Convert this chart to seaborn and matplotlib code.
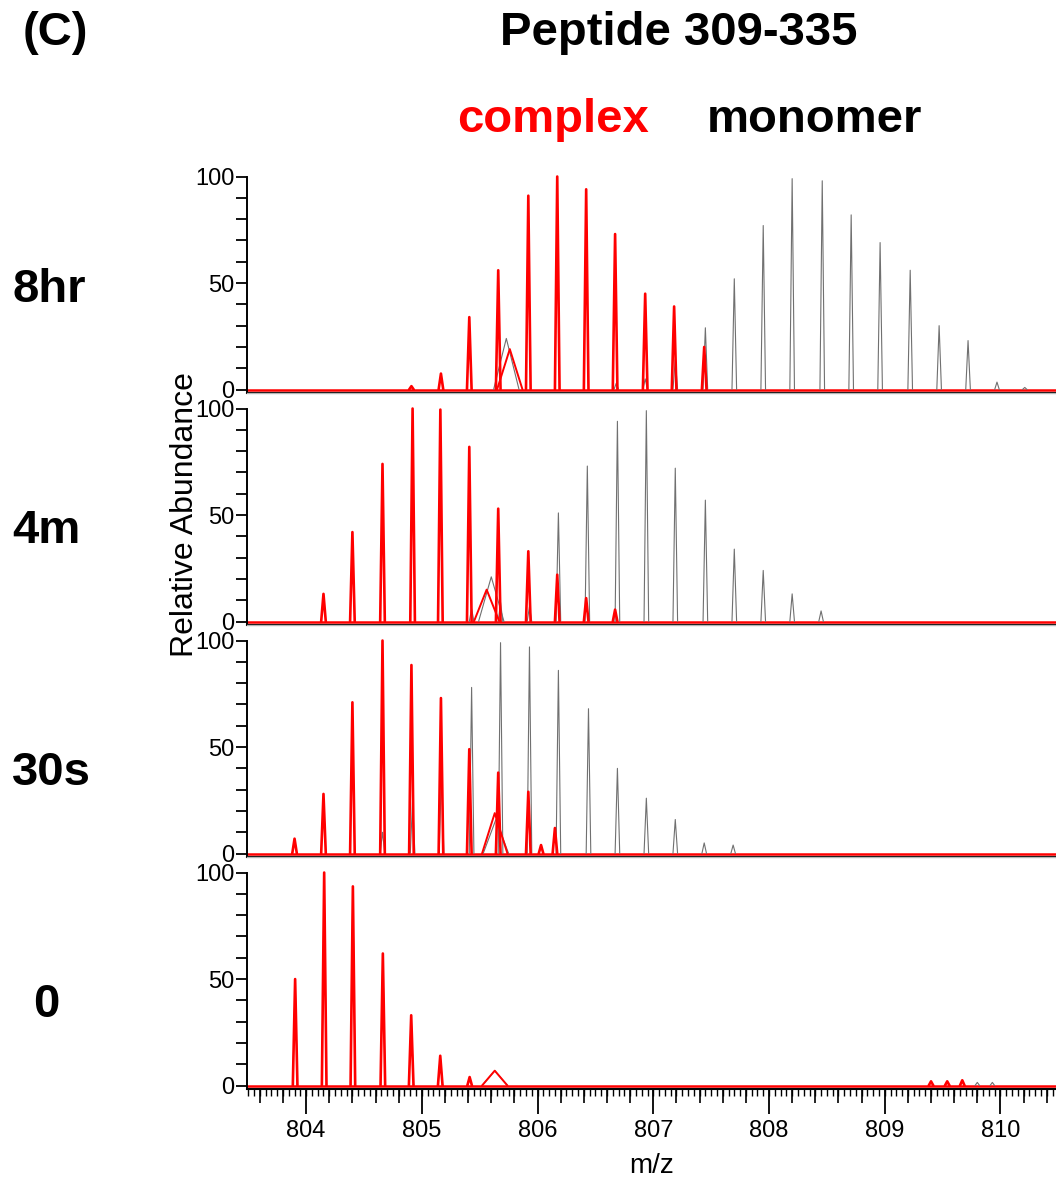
import numpy as np
import pandas as pd
import seaborn as sns
import matplotlib.pyplot as plt
from matplotlib.ticker import MultipleLocator, FormatStrFormatter

sns.set_style("ticks")
plt.rcParams["font.family"] = ["Liberation Sans", "DejaVu Sans"]
plt.rcParams.update({"text.color": "black", "axes.labelcolor": "black",
                     "xtick.color": "black", "ytick.color": "black"})

# time points, top to bottom
TIMEPOINTS = ["8hr", "4m", "30s", "0"]

# peak centroids (m/z) and relative abundance
COMPLEX_8HR_MZ = [804.91, 805.165, 805.41, 805.66, 805.92, 806.17, 806.42, 806.67, 806.93, 807.18, 807.44]
COMPLEX_8HR_AB = [1.6, 7.5, 34, 56, 91, 100, 94, 73, 45, 39, 20]
MONOMER_8HR_MZ = [806.68, 806.93, 807.19, 807.45, 807.70, 807.95, 808.20, 808.46, 808.71,
                  808.96, 809.22, 809.47, 809.72, 809.97, 810.21]
MONOMER_8HR_AB = [3, 5, 14, 29, 52, 77, 99, 98, 82, 69, 56, 30, 23, 3.5, 1]

COMPLEX_4M_MZ = [804.15, 804.40, 804.66, 804.92, 805.16, 805.41, 805.66, 805.92, 806.17, 806.42, 806.67]
COMPLEX_4M_AB = [13, 42, 74, 100, 99.5, 82, 53, 33, 22, 11, 5.6]
MONOMER_4M_MZ = [805.43, 805.68, 805.93, 806.18, 806.43, 806.69, 806.94, 807.19, 807.45,
                 807.70, 807.95, 808.20, 808.45]
MONOMER_4M_AB = [6, 9, 7, 51, 73, 94, 99, 72, 57, 34, 24, 13, 5]

COMPLEX_30S_MZ = [803.90, 804.15, 804.40, 804.66, 804.91, 805.165, 805.41, 805.66, 805.92, 806.03, 806.15]
COMPLEX_30S_AB = [7, 28, 71, 100, 88.5, 73, 49, 38, 29, 4, 12]
MONOMER_30S_MZ = [804.66, 804.92, 805.17, 805.43, 805.68, 805.93, 806.18, 806.44, 806.69,
                  806.94, 807.19, 807.44, 807.69]
MONOMER_30S_AB = [10, 25, 40, 78, 99, 97, 86, 68, 40, 26, 16, 5, 4]

COMPLEX_0_MZ = [803.905, 804.156, 804.404, 804.663, 804.908, 805.159, 805.413, 809.40, 809.54, 809.67]
COMPLEX_0_AB = [50, 100, 93.5, 62, 33, 14, 4, 2, 2, 2.5]
MONOMER_0_MZ = [803.905, 804.156, 804.404, 804.663, 804.908, 805.159, 805.413, 809.80, 809.93]
MONOMER_0_AB = [50, 100, 93.5, 62, 33, 14, 4, 1.5, 1.5]

# broad unresolved hump near m/z 805.6-805.8, one per panel
COMPLEX_HUMP_MZ = [805.76, 805.56, 805.63, 805.63]
COMPLEX_HUMP_AB = [19, 15, 19, 7]
MONOMER_HUMP_MZ = [805.73, 805.60, 805.64, 805.63]
MONOMER_HUMP_AB = [24, 21, 16, 7]

COMPLEX = [(COMPLEX_8HR_MZ, COMPLEX_8HR_AB), (COMPLEX_4M_MZ, COMPLEX_4M_AB),
           (COMPLEX_30S_MZ, COMPLEX_30S_AB), (COMPLEX_0_MZ, COMPLEX_0_AB)]
MONOMER = [(MONOMER_8HR_MZ, MONOMER_8HR_AB), (MONOMER_4M_MZ, MONOMER_4M_AB),
           (MONOMER_30S_MZ, MONOMER_30S_AB), (MONOMER_0_MZ, MONOMER_0_AB)]

PEAK_HALF_WIDTH = 0.02
HUMP_HALF_WIDTH = 0.11
RED = "#ff0000"
GREY = "#707070"


def peak_table(mz, ab, half):
    rows = []
    for i, (m, a) in enumerate(zip(mz, ab)):
        rows += [(i, m - half, 0.0), (i, m, a), (i, m + half, 0.0)]
    return pd.DataFrame(rows, columns=["peak", "mz", "abundance"])


def draw_trace(ax, mz, ab, half, color, lw):
    sns.lineplot(data=peak_table(mz, ab, half), x="mz", y="abundance", units="peak",
                 estimator=None, sort=False, color=color, linewidth=lw, legend=False, ax=ax)


def fx(px):
    return px / 1056


def fy(py):
    return 1 - py / 1181


fig = plt.figure(figsize=(10.56, 11.81), dpi=100)
axes = fig.subplots(4, 1, sharex=True, gridspec_kw=dict(hspace=0))
fig.subplots_adjust(left=0.234, right=1.0, top=0.8637, bottom=0.0779)

for i, ax in enumerate(axes):
    mono_mz, mono_ab = MONOMER[i]
    cplx_mz, cplx_ab = COMPLEX[i]
    draw_trace(ax, mono_mz, mono_ab, PEAK_HALF_WIDTH, GREY, 0.8)
    draw_trace(ax, [MONOMER_HUMP_MZ[i]], [MONOMER_HUMP_AB[i]], HUMP_HALF_WIDTH, GREY, 0.8)
    ax.axhline(0, color=RED, lw=1.8, zorder=1)
    draw_trace(ax, cplx_mz, cplx_ab, PEAK_HALF_WIDTH, RED, 1.9)
    draw_trace(ax, [COMPLEX_HUMP_MZ[i]], [COMPLEX_HUMP_AB[i]], HUMP_HALF_WIDTH, RED, 1.4)

    ax.set_xlim(803.49, 810.48)
    ax.set_ylim(-1.6, 107.3)
    ax.set_xlabel("")
    ax.set_ylabel("")
    ax.set_yticks([0, 50, 100])
    ax.yaxis.set_minor_locator(MultipleLocator(10))
    ax.tick_params(axis="y", which="both", direction="out", length=8, width=1.3,
                   pad=1, labelsize=17)
    ax.spines["right"].set_visible(False)
    ax.spines["left"].set_bounds(-1.6, 100)
    ax.spines["left"].set_linewidth(1.4)
    ax.spines["left"].set_color("black")
    ax.spines["bottom"].set_linewidth(1.5)
    ax.spines["bottom"].set_color("black")
    if i == 0:
        ax.spines["top"].set_visible(False)
    else:
        ax.spines["top"].set_color("#b5b5b5")
        ax.spines["top"].set_linewidth(1.0)
    if i < 3:
        ax.tick_params(axis="x", which="both", bottom=False, labelbottom=False)

bottom = axes[-1]
bottom.xaxis.set_major_locator(MultipleLocator(1))
bottom.xaxis.set_major_formatter(FormatStrFormatter("%d"))
bottom.xaxis.set_minor_locator(MultipleLocator(0.2))
bottom.tick_params(axis="x", which="major", length=18, width=1.3, labelsize=17, pad=4)
bottom.tick_params(axis="x", which="minor", length=10, width=1.2)
sec = bottom.secondary_xaxis("bottom")
sec.xaxis.set_major_locator(MultipleLocator(0.05))
sec.tick_params(axis="x", length=5, width=1.0, labelbottom=False)
sec.spines["bottom"].set_visible(False)
bottom.set_xlabel("m/z", fontsize=20, labelpad=8)

fig.text(fx(185), fy(515), "Relative Abundance", rotation=90, ha="center", va="center", fontsize=23)

fig.text(fx(23), fy(45), "(C)", fontsize=34, fontweight="bold", va="baseline")
fig.text(fx(500), fy(45), "Peptide 309-335", fontsize=34, fontweight="bold", va="baseline")
fig.text(fx(457), fy(132), "complex", fontsize=34, fontweight="bold", color=RED, va="baseline")
fig.text(fx(707), fy(132), "monomer", fontsize=34, fontweight="bold", color="black", va="baseline")

label_pos = [(12, 302), (12, 543), (12, 785), (33, 1017)]
for name, (lx, ly) in zip(TIMEPOINTS, label_pos):
    fig.text(fx(lx), fy(ly), name, fontsize=34, fontweight="bold", va="baseline")

fig.savefig("out.png", dpi=100)
